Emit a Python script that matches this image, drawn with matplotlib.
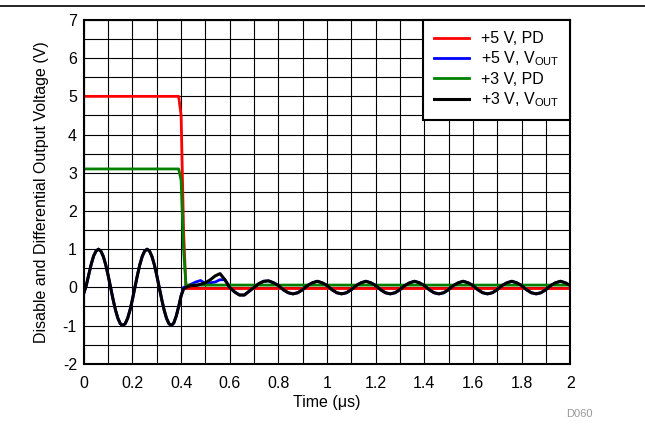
import matplotlib
matplotlib.use("Agg")
import matplotlib.pyplot as plt
from matplotlib.lines import Line2D
import numpy as np

plt.rcParams['font.family'] = ['Liberation Sans', 'DejaVu Sans']
plt.rcParams['axes.unicode_minus'] = False

# Time base for the output-voltage traces (µs): 0.01 steps to 0.42, then 0.02 steps
t_vout = [round(0.01 * i, 2) for i in range(43)] + [round(0.44 + 0.02 * i, 2) for i in range(79)]

# +3 V, VOUT (black)
v3_out = [
    -0.15, 0.05, 0.33, 0.60, 0.82, 0.95, 1.00, 0.95, 0.81, 0.59,        # 0.00-0.09
    0.31, 0.00, -0.31, -0.59, -0.81, -0.95, -1.00, -0.95, -0.81, -0.59, # 0.10-0.19
    -0.31, 0.00, 0.31, 0.59, 0.81, 0.95, 1.00, 0.95, 0.81, 0.59,        # 0.20-0.29
    0.31, 0.00, -0.31, -0.59, -0.81, -0.95, -1.00, -0.93, -0.75, -0.50, # 0.30-0.39
    -0.22, -0.05, 0.00,                                                 # 0.40-0.42
    0.05, 0.05, 0.08, 0.12, 0.20, 0.30, 0.36, 0.20,                     # 0.44-0.58
    0.00, -0.12, -0.20, -0.20, -0.10, 0.00, 0.10, 0.16, 0.17, 0.12,     # 0.60-0.78
    0.05, -0.06, -0.14, -0.17, -0.14, -0.06, 0.05, 0.12, 0.16, 0.12,    # 0.80-0.98
    0.05, -0.06, -0.14, -0.17, -0.14, -0.06, 0.05, 0.12, 0.16, 0.12,    # 1.00-1.18
    0.05, -0.06, -0.14, -0.17, -0.14, -0.06, 0.05, 0.12, 0.16, 0.12,    # 1.20-1.38
    0.05, -0.06, -0.14, -0.17, -0.14, -0.06, 0.05, 0.12, 0.16, 0.12,    # 1.40-1.58
    0.05, -0.06, -0.14, -0.17, -0.14, -0.06, 0.05, 0.12, 0.16, 0.12,    # 1.60-1.78
    0.05, -0.06, -0.14, -0.17, -0.14, -0.06, 0.05, 0.12, 0.16, 0.12,    # 1.80-1.98
    0.05,                                                               # 2.00
]

# +5 V, VOUT (blue) -- nearly identical except just after disable
v5_out = list(v3_out)
v5_out[41:50] = [0.00, 0.02, 0.08, 0.14, 0.18, 0.10, 0.12, 0.14, 0.20]

# Disable (PD) traces
t_pd = [0.0, 0.39, 0.40, 0.41, 0.42, 2.0]
v5_pd = [5.0, 5.0, 4.5, 1.5, -0.03, -0.03]
v3_pd = [3.1, 3.1, 2.8, 1.0, 0.06, 0.06]

labels = ['+5 V, PD', '+5 V, V$_{\\mathregular{OUT}}$', '+3 V, PD', '+3 V, V$_{\\mathregular{OUT}}$']
colors = ['#ff0000', '#0000ff', '#008000', '#000000']

x_ticks = [0, 0.2, 0.4, 0.6, 0.8, 1.0, 1.2, 1.4, 1.6, 1.8, 2.0]
x_ticklabels = ['0', '0.2', '0.4', '0.6', '0.8', '1', '1.2', '1.4', '1.6', '1.8', '2']
y_ticks = [-2, -1, 0, 1, 2, 3, 4, 5, 6, 7]

fig = plt.figure(figsize=(6.45, 4.24), dpi=100)
ax = fig.add_axes([0.130, 0.142, 0.754, 0.811])

ax.plot(t_pd, v5_pd, color=colors[0], lw=2, label=labels[0])
ax.plot(t_vout, v5_out, color=colors[1], lw=2, label=labels[1])
ax.plot(t_pd, v3_pd, color=colors[2], lw=2, label=labels[2])
ax.plot(t_vout, v3_out, color=colors[3], lw=2.2, label=labels[3])

ax.set_xlim(0, 2)
ax.set_ylim(-2, 7)
ax.set_xticks(x_ticks)
ax.set_xticklabels(x_ticklabels)
ax.set_yticks(y_ticks)
ax.set_xticks(np.arange(0, 2.0001, 0.1), minor=True)
ax.set_yticks(np.arange(-2, 7.0001, 0.5), minor=True)
ax.grid(which='both', color='black', linewidth=0.8)
ax.set_axisbelow(True)
ax.tick_params(which='both', length=0, labelsize=11.5)
ax.tick_params(axis='x', pad=9)
ax.tick_params(axis='y', pad=5)
for s in ax.spines.values():
    s.set_linewidth(1.5)
    s.set_color('black')

ax.set_xlabel('Time (μs)', fontsize=11.5, labelpad=3)
ax.set_ylabel('Disable and Differential Output Voltage (V)', fontsize=11.5, labelpad=10)

leg = ax.legend(loc='upper right', fontsize=11.5, frameon=True, fancybox=False,
                framealpha=1, edgecolor='black', handlelength=2.2,
                borderaxespad=0, labelspacing=0.22, handletextpad=0.7,
                borderpad=0.7)
leg.get_frame().set_linewidth(1.5)

fig.text(566 / 645, 1 - 417 / 424, 'D060', fontsize=8, color='#999999')
fig.add_artist(Line2D([0, 1], [0.986, 0.986], color='black', lw=1.2,
                      transform=fig.transFigure))

fig.savefig('out.png', dpi=100)
